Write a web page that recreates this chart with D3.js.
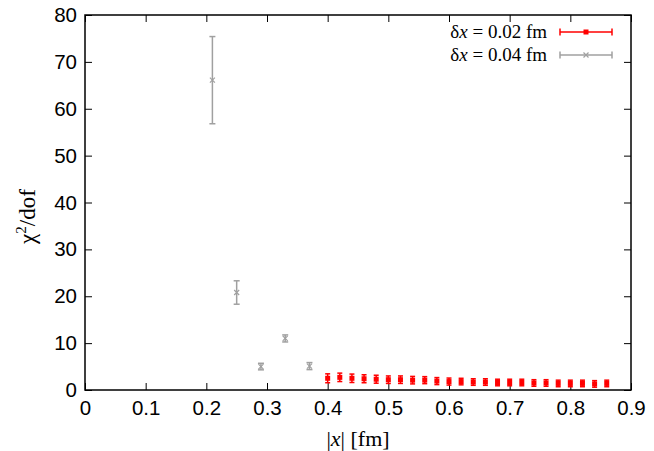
<!DOCTYPE html>
<html>
<head>
<meta charset="utf-8">
<script src="https://cdn.jsdelivr.net/npm/d3@7"></script>
<style>
body { margin: 0; background: #fff; }
.tick text { font-family: "Liberation Sans", Arial, sans-serif; font-size: 20.5px; fill: #000; }
.serif { font-family: "Liberation Serif", "Times New Roman", serif; }
</style>
</head>
<body>
<svg id="chart" width="654" height="451"></svg>
<script>
// dx = 0.02 fm series
var redX = [0.40, 0.42, 0.44, 0.46, 0.48, 0.50, 0.52, 0.54, 0.56, 0.58, 0.60, 0.62,
            0.64, 0.66, 0.68, 0.70, 0.72, 0.74, 0.76, 0.78, 0.80, 0.82, 0.84, 0.86];
var redY = [2.5, 2.7, 2.5, 2.4, 2.3, 2.2, 2.2, 2.1, 2.1, 1.9, 1.8, 1.8,
            1.7, 1.7, 1.6, 1.6, 1.6, 1.5, 1.5, 1.4, 1.4, 1.4, 1.3, 1.4];
var redErr = [0.95, 0.9, 0.9, 0.85, 0.85, 0.8, 0.8, 0.8, 0.75, 0.75, 0.75, 0.7,
              0.7, 0.7, 0.7, 0.7, 0.7, 0.7, 0.7, 0.7, 0.7, 0.7, 0.7, 0.7];

// dx = 0.04 fm series
var grayX = [0.21, 0.25, 0.29, 0.33, 0.37];
var grayY = [66.1, 20.8, 5.0, 11.0, 5.1];
var grayErr = [9.3, 2.5, 0.7, 0.75, 0.75];

var xTicks = [0, 0.1, 0.2, 0.3, 0.4, 0.5, 0.6, 0.7, 0.8, 0.9];
var yTicks = [0, 10, 20, 30, 40, 50, 60, 70, 80];

var margin = { top: 15, right: 23, bottom: 61, left: 85 },
    width = 654 - margin.left - margin.right,
    height = 451 - margin.top - margin.bottom;

var x = d3.scaleLinear().domain([0, 0.9]).range([0, width]);
var y = d3.scaleLinear().domain([0, 80]).range([height, 0]);

var svg = d3.select("#chart")
    .append("g")
    .attr("transform", "translate(" + margin.left + "," + margin.top + ")");

// axes: ticks on all four sides, pointing inwards
var xAxis = d3.axisBottom(x).tickValues(xTicks).tickSize(-7).tickPadding(10)
    .tickFormat(function (d) { return d === 0 ? "0" : d3.format(".1f")(d); });
var yAxis = d3.axisLeft(y).tickValues(yTicks).tickSize(-7).tickPadding(8);

svg.append("g").attr("transform", "translate(0," + height + ")").call(xAxis);
svg.append("g").call(yAxis);
svg.append("g").call(d3.axisTop(x).tickValues(xTicks).tickSize(-7).tickFormat(""));
svg.append("g").attr("transform", "translate(" + width + ",0)")
    .call(d3.axisRight(y).tickValues(yTicks).tickSize(-7).tickFormat(""));

svg.selectAll(".domain").remove();
svg.selectAll(".tick line").attr("stroke", "#000").attr("stroke-width", 1);
svg.append("rect")
    .attr("width", width).attr("height", height)
    .attr("fill", "none").attr("stroke", "#000").attr("stroke-width", 1.5);

// error bars
function drawSeries(xs, ys, errs, color, capW, marker) {
    var g = svg.append("g");
    xs.forEach(function (xv, i) {
        var cx = x(xv), lo = y(ys[i] - errs[i]), hi = y(ys[i] + errs[i]);
        g.append("line").attr("x1", cx).attr("x2", cx).attr("y1", lo).attr("y2", hi)
            .attr("stroke", color).attr("stroke-width", 1.5);
        [lo, hi].forEach(function (yy) {
            g.append("line").attr("x1", cx - capW).attr("x2", cx + capW).attr("y1", yy).attr("y2", yy)
                .attr("stroke", color).attr("stroke-width", 1.5);
        });
        marker(g, cx, y(ys[i]));
    });
}

function squareMarker(g, cx, cy) {
    g.append("rect").attr("x", cx - 2.5).attr("y", cy - 2.5).attr("width", 5).attr("height", 5)
        .attr("fill", "#ff0000");
}
function crossMarker(g, cx, cy) {
    g.append("path")
        .attr("d", "M" + (cx - 2.5) + "," + (cy - 2.5) + "L" + (cx + 2.5) + "," + (cy + 2.5) +
                   "M" + (cx - 2.5) + "," + (cy + 2.5) + "L" + (cx + 2.5) + "," + (cy - 2.5))
        .attr("stroke", "#a0a0a0").attr("stroke-width", 1.2);
}

drawSeries(grayX, grayY, grayErr, "#a0a0a0", 3, crossMarker);
drawSeries(redX, redY, redErr, "#ff0000", 2.5, squareMarker);

// legend
var legend = [
    { label: "0.02 fm", color: "#ff0000", marker: squareMarker, yy: 17 },
    { label: "0.04 fm", color: "#a0a0a0", marker: crossMarker, yy: 40 }
];
legend.forEach(function (l) {
    var t = svg.append("text").attr("class", "serif")
        .attr("x", 462).attr("y", l.yy + 6).attr("text-anchor", "end")
        .attr("font-size", 19);
    t.append("tspan").text("\u03B4");
    t.append("tspan").attr("font-style", "italic").text("x");
    t.append("tspan").text(" = " + l.label);
    var g = svg.append("g");
    g.append("line").attr("x1", 475).attr("x2", 527).attr("y1", l.yy).attr("y2", l.yy)
        .attr("stroke", l.color).attr("stroke-width", 1.5);
    [475, 527].forEach(function (xx) {
        g.append("line").attr("x1", xx).attr("x2", xx).attr("y1", l.yy - 3.5).attr("y2", l.yy + 3.5)
            .attr("stroke", l.color).attr("stroke-width", 1.5);
    });
    l.marker(g, 501, l.yy);
});

// axis labels
var xl = svg.append("text").attr("class", "serif")
    .attr("x", width / 2).attr("y", height + 56).attr("text-anchor", "middle")
    .attr("font-size", 22);
xl.append("tspan").text("|");
xl.append("tspan").attr("font-style", "italic").text("x");
xl.append("tspan").text("| [fm]");

var yl = svg.append("text").attr("class", "serif")
    .attr("transform", "translate(-50," + (height / 2 + 14) + ") rotate(-90)")
    .attr("text-anchor", "middle").attr("font-size", 23);
yl.append("tspan").text("\u03C7");
yl.append("tspan").attr("dy", -9).attr("font-size", 15).text("2");
yl.append("tspan").attr("dy", 9).text("/dof");
</script>
</body>
</html>
